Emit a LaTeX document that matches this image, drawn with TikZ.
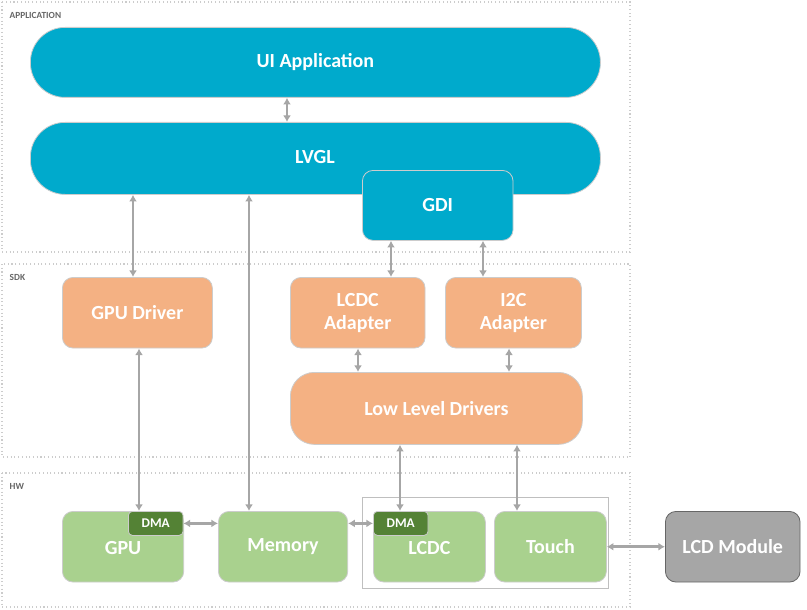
\documentclass[tikz,border=0pt]{standalone}
\usepackage{fontspec}
\setmainfont{Carlito}
\usetikzlibrary{positioning,calc,arrows.meta}

\definecolor{appblue}{RGB}{0,170,204}
\definecolor{sdkorange}{RGB}{244,177,131}
\definecolor{hwgreen}{RGB}{169,209,142}
\definecolor{dmagreen}{RGB}{84,130,53}
\definecolor{modgray}{RGB}{166,166,166}

\tikzset{
  blk/.style={draw=white!80!black,line width=0.6pt,text=white,font=\bfseries\fontsize{15}{17}\selectfont,
    align=center,inner sep=0pt,anchor=north west},
  app/.style={blk,fill=appblue},
  sdk/.style={blk,fill=sdkorange},
  hw/.style={blk,fill=hwgreen},
  dma/.style={blk,fill=dmagreen,rounded corners=3pt,font=\bfseries\fontsize{10}{12}\selectfont},
  layer/.style={draw=gray!40,dotted,line width=0.8pt},
  tag/.style={anchor=west,text=gray!80!black,font=\bfseries\fontsize{7}{8}\selectfont},
  link/.style={draw=gray!70,line width=2pt,{Latex[length=5pt,width=6pt]}-{Latex[length=5pt,width=6pt]}}
}

\begin{document}
\begin{tikzpicture}[x=0.75pt,y=-0.75pt]
  \useasboundingbox (0,0) rectangle (807,610);
  % layers
  \draw[layer] (2,2) rectangle (630,252);
  \draw[layer] (2,264) rectangle (630,457);
  \draw[layer] (2,473) rectangle (630,607);
  \node[tag] (tapp) at (5,15) {APPLICATION};
  \node[tag] (tsdk) at (5,277) {SDK};
  \node[tag] (thw) at (5,486) {HW};

  % application
  \node[app,rounded corners=26pt,minimum width=427.5pt,minimum height=52.5pt] (ui) at (30,27) {UI Application};
  \node[app,rounded corners=26pt,minimum width=427.5pt,minimum height=54pt] (lvgl) at (30,122) {};
  \node[text=white,font=\bfseries\fontsize{15}{17}\selectfont] (lvgltxt) at (315,157) {LVGL};
  \node[app,rounded corners=8pt,minimum width=113pt,minimum height=52.5pt] (gdi) at (362,170) {GDI};

  % sdk
  \node[sdk,rounded corners=8pt,minimum width=112.5pt,minimum height=53pt] (gpudrv) at (62,277) {GPU Driver};
  \node[sdk,rounded corners=8pt,minimum width=101pt,minimum height=53pt] (lcdcad) at (290,277) {LCDC\\Adapter};
  \node[sdk,rounded corners=8pt,minimum width=102pt,minimum height=53pt] (i2cad) at (445,277) {I2C\\Adapter};
  \node[sdk,rounded corners=18pt,minimum width=219pt,minimum height=54pt] (lld) at (290,372) {Low Level Drivers};

  % hw
  \draw[draw=gray!50] (362,497) rectangle (608,588);
  \node[hw,rounded corners=8pt,minimum width=91pt,minimum height=53pt] (gpu) at (62,511) {\raisebox{-12pt}{GPU}};
  \node[hw,rounded corners=8pt,minimum width=97pt,minimum height=53pt] (mem) at (218,511) {Memory};
  \node[hw,rounded corners=8pt,minimum width=84pt,minimum height=53pt] (lcdc) at (373,511) {\raisebox{-12pt}{LCDC}};
  \node[hw,rounded corners=8pt,minimum width=84pt,minimum height=53pt] (touch) at (494,511) {Touch};
  \node[blk,fill=modgray,draw=gray!80!black,rounded corners=8pt,minimum width=101pt,minimum height=53pt] (lcdmod) at (665,511) {LCD Module};
  \node[dma,minimum width=41pt,minimum height=18pt] (gpudma) at (128,511) {DMA};
  \node[dma,minimum width=41pt,minimum height=18pt] (lcdcdma) at (373,511) {DMA};

  % links
  \draw[link] (ui.south -| 287,0) -- (lvgl.north -| 287,0);
  \draw[link] (lvgl.south -| 133,0) -- (gpudrv.north -| 133,0);
  \draw[link] (lvgl.south -| 249,0) -- (mem.north -| 249,0);
  \draw[link] (gdi.south -| 391,0) -- (lcdcad.north -| 391,0);
  \draw[link] (gdi.south -| 483,0) -- (i2cad.north -| 483,0);
  \draw[link] (lcdcad.south -| 358,0) -- (lld.north -| 358,0);
  \draw[link] (i2cad.south -| 509,0) -- (lld.north -| 509,0);
  \draw[link] (lld.south -| 400,0) -- (lcdcdma.north -| 400,0);
  \draw[link] (lld.south -| 517,0) -- (touch.north -| 517,0);
  \draw[link] (gpudrv.south -| 139,0) -- (gpudma.north -| 139,0);
  \draw[link] (gpudma.east) -- (mem.west |- gpudma.east);
  \draw[link] (mem.east |- lcdcdma.west) -- (lcdcdma.west);
  \draw[link] (touch.east) -- (lcdmod.west);
\end{tikzpicture}
\end{document}
